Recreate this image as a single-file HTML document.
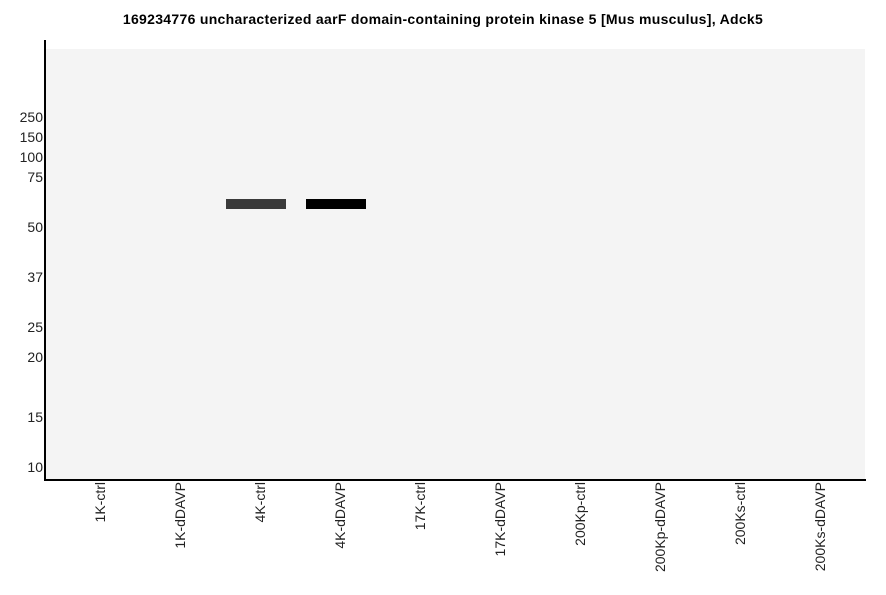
<!DOCTYPE html>
<html><head><style>
body{margin:0;background:#fff;}
#c{position:relative;width:886px;height:595px;font-family:"Liberation Sans",sans-serif;overflow:hidden;}
.t{position:absolute;top:11px;left:0;width:886px;text-align:center;font-weight:bold;font-size:14px;letter-spacing:0.3px;}
.y{position:absolute;right:843px;font-size:14px;line-height:14px;color:#222;}
.x{position:absolute;top:482px;font-size:14px;line-height:14px;color:#222;writing-mode:vertical-rl;transform:rotate(180deg);white-space:nowrap;}
</style></head><body><div id="c">
<div class="t">169234776 uncharacterized aarF domain-containing protein kinase 5 [Mus musculus], Adck5</div>
<div style="position:absolute;left:46px;top:49px;width:819px;height:430px;background:#f4f4f4"></div>
<div style="position:absolute;left:44px;top:40px;width:2px;height:441px;background:#000"></div>
<div style="position:absolute;left:44px;top:479px;width:822px;height:2px;background:#000"></div>
<div style="position:absolute;left:226px;top:199px;width:60px;height:10px;background:#3a3a3a"></div>
<div style="position:absolute;left:306px;top:199px;width:60px;height:10px;background:#000"></div>
<div class="y" style="top:110px">250</div>
<div class="y" style="top:130px">150</div>
<div class="y" style="top:150px">100</div>
<div class="y" style="top:170px">75</div>
<div class="y" style="top:220px">50</div>
<div class="y" style="top:270px">37</div>
<div class="y" style="top:320px">25</div>
<div class="y" style="top:350px">20</div>
<div class="y" style="top:410px">15</div>
<div class="y" style="top:460px">10</div>
<div class="x" style="left:93px">1K-ctrl</div>
<div class="x" style="left:173px">1K-dDAVP</div>
<div class="x" style="left:253px">4K-ctrl</div>
<div class="x" style="left:333px">4K-dDAVP</div>
<div class="x" style="left:413px">17K-ctrl</div>
<div class="x" style="left:493px">17K-dDAVP</div>
<div class="x" style="left:573px">200Kp-ctrl</div>
<div class="x" style="left:653px">200Kp-dDAVP</div>
<div class="x" style="left:733px">200Ks-ctrl</div>
<div class="x" style="left:813px">200Ks-dDAVP</div>
</div></body></html>
